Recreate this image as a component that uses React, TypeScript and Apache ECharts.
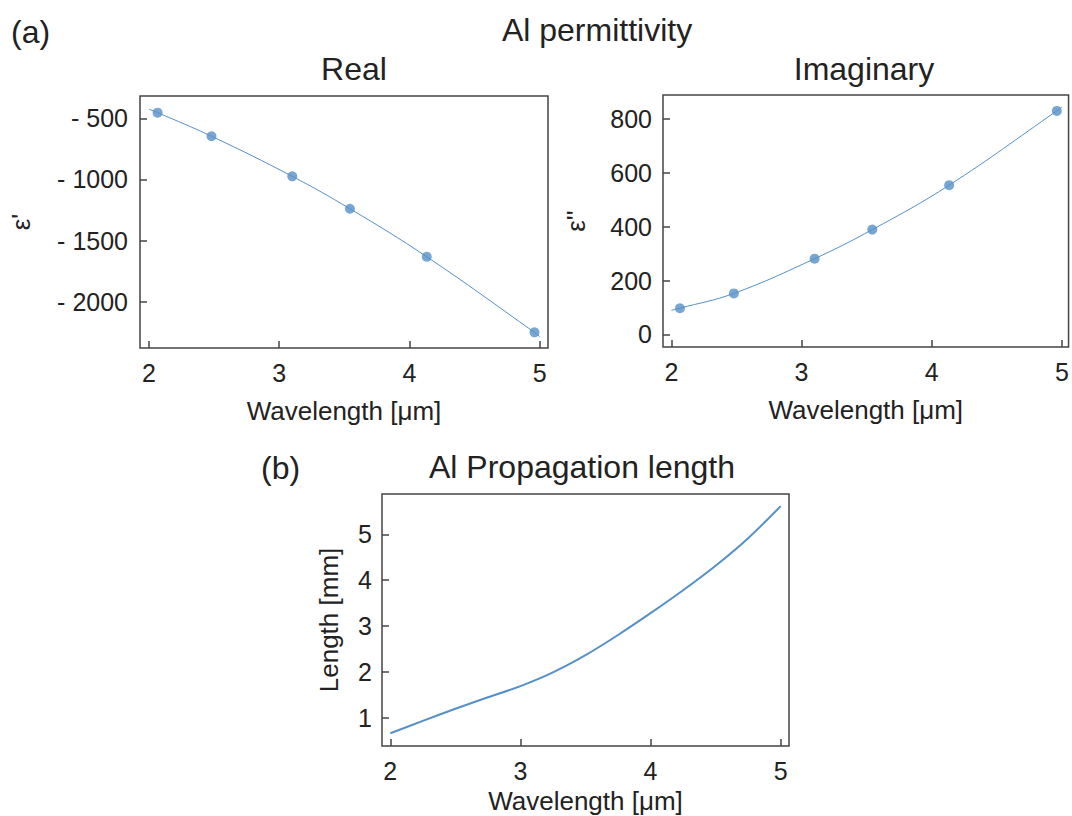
import React, { useEffect, useRef } from "react";
import * as echarts from "echarts";

// ---- data ----
const wavelengths = [2.066, 2.48, 3.1, 3.543, 4.133, 4.96];
const realValues = [-454, -647, -975, -1240, -1633, -2251];
const imagValues = [97, 152, 281, 389, 554, 830];

const fitX = [2.0, 2.066, 2.48, 3.1, 3.543, 4.133, 4.96, 5.0];
const realFit = [-426, -454, -647, -975, -1240, -1633, -2251, -2287];
const imagFit = [89, 97, 152, 281, 389, 554, 830, 845];

const propX = [2.0, 2.25, 2.5, 2.75, 3.0, 3.25, 3.5, 3.75, 4.0, 4.25, 4.5, 4.75, 5.0];
const propY = [0.66, 0.93, 1.195, 1.445, 1.69, 1.99, 2.365, 2.805, 3.28, 3.78, 4.315, 4.915, 5.615];

const xTicks = [2, 3, 4, 5];
const realTicks = [-2000, -1500, -1000, -500];
const imagTicks = [0, 200, 400, 600, 800];
const propTicks = [1, 2, 3, 4, 5];

const FONT = "'Liberation Sans', Arial, Helvetica, sans-serif";
const TEXT = "#222";
const FRAME = "#444";
const BLUE = "#5590c8";

function pairs(xs: number[], ys: number[]) {
  return xs.map((x, i) => [x, ys[i]]);
}

function xAxis(gridIndex: number, min: number, max: number, nameGap: number) {
  return {
    type: "value",
    gridIndex,
    min,
    max,
    name: "Wavelength [μm]",
    nameLocation: "middle",
    nameGap,
    nameTextStyle: { fontFamily: FONT, fontSize: 26, color: TEXT },
    axisLine: { show: false, onZero: false },
    splitLine: { show: false },
    axisTick: {
      show: true,
      inside: true,
      length: 7,
      customValues: xTicks,
      lineStyle: { color: FRAME, width: 1.5 },
    },
    axisLabel: {
      customValues: xTicks,
      margin: 12,
      fontFamily: FONT,
      fontSize: 25,
      color: TEXT,
    },
  };
}

function yAxis(
  gridIndex: number,
  min: number,
  max: number,
  ticks: number[],
  name: string,
  nameGap: number,
  margin: number,
  fmt?: (v: number) => string
) {
  return {
    type: "value",
    gridIndex,
    min,
    max,
    name,
    nameLocation: "middle",
    nameRotate: 90,
    nameGap,
    nameTextStyle: { fontFamily: FONT, fontSize: 26, color: TEXT },
    axisLine: { show: false, onZero: false },
    splitLine: { show: false },
    axisTick: {
      show: true,
      inside: true,
      length: 7,
      customValues: ticks,
      lineStyle: { color: FRAME, width: 1.5 },
    },
    axisLabel: {
      customValues: ticks,
      margin,
      fontFamily: FONT,
      fontSize: 25,
      color: TEXT,
      formatter: fmt,
    },
  };
}

function title(text: string, x: number, y: number, align = "center") {
  return {
    type: "text",
    x,
    y,
    style: {
      text,
      fill: TEXT,
      font: `32px ${FONT}`,
      align,
      verticalAlign: "middle",
    },
  };
}

export default function App() {
  const ref = useRef<HTMLDivElement>(null);

  useEffect(() => {
    if (!ref.current) return;
    const chart = echarts.init(ref.current, undefined, { renderer: "svg" });
    const gridBase = { show: true, borderColor: FRAME, borderWidth: 1.5, containLabel: false };
    chart.setOption({
      animation: false,
      backgroundColor: "#fff",
      grid: [
        { ...gridBase, left: 140, top: 96, width: 408, height: 252 },
        { ...gridBase, left: 663, top: 95, width: 406, height: 252 },
        { ...gridBase, left: 382, top: 494, width: 407, height: 252 },
      ],
      xAxis: [
        xAxis(0, 1.931, 5.064, 50),
        xAxis(1, 1.936, 5.05, 50),
        xAxis(2, 1.936, 5.064, 42),
      ],
      yAxis: [
        yAxis(0, -2379, -318, realTicks, "ε'", 106, 12, (v: number) =>
          v < 0 ? "- " + Math.abs(v) : String(v)
        ),
        yAxis(1, -47, 889, imagTicks, "ε''", 74, 11),
        yAxis(2, 0.383, 5.88, propTicks, "Length [mm]", 40, 10),
      ],
      graphic: [
        title("(a)", 11, 32, "left"),
        title("Al permittivity", 597, 30),
        title("Real", 354, 69),
        title("Imaginary", 864, 69),
        title("(b)", 261, 468, "left"),
        title("Al Propagation length", 582, 467),
      ],
      series: [
        {
          type: "line",
          xAxisIndex: 0,
          yAxisIndex: 0,
          data: pairs(fitX, realFit),
          smooth: 0.4,
          showSymbol: false,
          lineStyle: { color: BLUE, width: 1 },
          silent: true,
        },
        {
          type: "scatter",
          xAxisIndex: 0,
          yAxisIndex: 0,
          data: pairs(wavelengths, realValues),
          symbol: "circle",
          symbolSize: 10,
          itemStyle: { color: BLUE },
        },
        {
          type: "line",
          xAxisIndex: 1,
          yAxisIndex: 1,
          data: pairs(fitX, imagFit),
          smooth: 0.4,
          showSymbol: false,
          lineStyle: { color: BLUE, width: 1 },
          silent: true,
        },
        {
          type: "scatter",
          xAxisIndex: 1,
          yAxisIndex: 1,
          data: pairs(wavelengths, imagValues),
          symbol: "circle",
          symbolSize: 10,
          itemStyle: { color: BLUE },
        },
        {
          type: "line",
          xAxisIndex: 2,
          yAxisIndex: 2,
          data: pairs(propX, propY),
          smooth: 0.3,
          showSymbol: false,
          lineStyle: { color: BLUE, width: 2 },
          silent: true,
        },
      ],
    });
    return () => chart.dispose();
  }, []);

  return (
    <div
      ref={ref}
      style={{ position: "fixed", left: 0, top: 0, width: 1072, height: 816, background: "#fff" }}
    />
  );
}
